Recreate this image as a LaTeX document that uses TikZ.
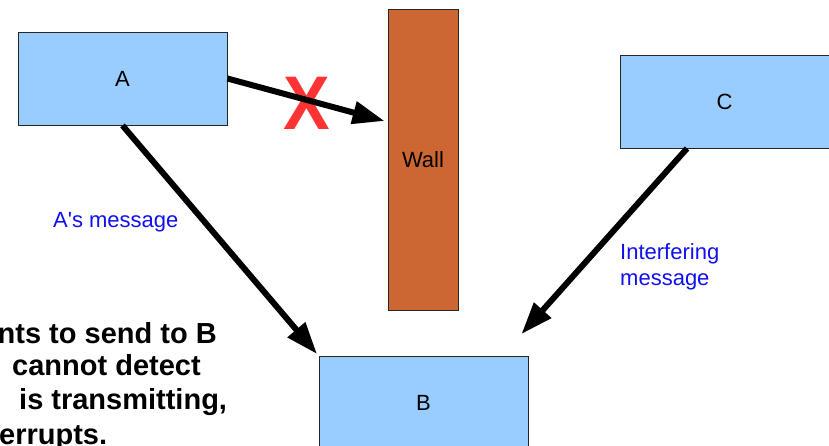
\documentclass[tikz,border=0pt]{standalone}
\usepackage{fontspec}
\setmainfont{Liberation Sans}
\usetikzlibrary{arrows.meta,calc}
\definecolor{boxblue}{HTML}{99CCFF}
\definecolor{wallbrown}{HTML}{CC6633}
\definecolor{xred}{HTML}{FF3333}
\definecolor{lblblue}{HTML}{1010F0}
\begin{document}
\begin{tikzpicture}[x=1pt,y=-1pt,
  station/.style={draw=black!85,line width=0.9pt,fill=boxblue,minimum width=209pt,minimum height=93pt,inner sep=0pt,font=\fontsize{22}{26}\selectfont},
  wallbox/.style={draw=black!85,line width=0.9pt,fill=wallbrown,minimum width=70pt,minimum height=301pt,inner sep=0pt,font=\fontsize{22}{26}\selectfont},
  msg/.style={line width=6pt,-{Triangle[length=32pt,width=22pt]}},
  lbl/.style={text=lblblue,inner sep=0pt,font=\fontsize{22}{26}\selectfont},
  note/.style={inner sep=0pt,font=\fontsize{29}{32}\selectfont\bfseries}]
\useasboundingbox (0,0) rectangle (829,446);
\clip (0,0) rectangle (829,446);
\node[station] (A) at (122.5,78.5) {A};
\node[wallbox] (W) at (423,159.5) {Wall};
\node[station] (B) at (423.5,403) {B};
\node[station] (C) at (724.5,101.5) {C};
\node[text=xred,inner sep=0pt,font=\fontsize{76}{80}\selectfont\bfseries,xscale=0.92] (X) at (307,103) {X};
\coordinate (wtip) at ($(W.west)+(-3,-38.5)$);
\coordinate (btipA) at ($(B.north west)+(-1.5,-2)$);
\coordinate (cstart) at ($(C.south)+(-37.5,0)$);
\coordinate (btipC) at ($(B.north east)+(-7,-22)$);
\draw[msg] (A.east) -- (wtip);
\draw[msg] (A.south) -- (btipA);
\draw[msg] (cstart) -- (btipC);
\node[lbl,anchor=base west] (am) at (53,228) {A\textquotesingle s message};
\node[lbl,anchor=base west] (im1) at (620,259) {Interfering};
\node[lbl,anchor=base west] (im2) at (620,285) {message};
\node[note,anchor=base east] (n1) at (217,343) {nts to send to B};
\node[note,anchor=base west] (n2) at (12,375.5) {cannot detect};
\node[note,anchor=base west] (n3) at (19,409) {is transmitting,};
\node[note,anchor=base west] (n4) at (-1,444.5) {errupts.};
\end{tikzpicture}
\end{document}
